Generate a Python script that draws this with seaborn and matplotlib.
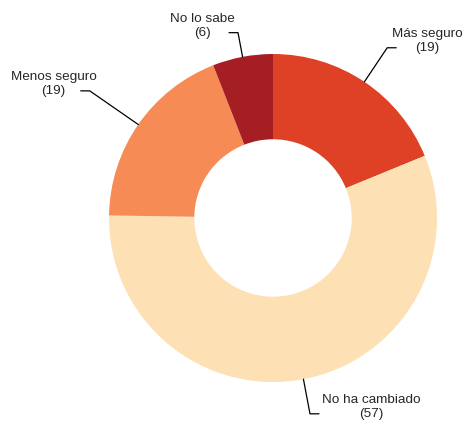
import numpy as np
import seaborn as sns
import matplotlib.pyplot as plt

categorias = ['Más seguro', 'No ha cambiado', 'Menos seguro', 'No lo sabe']
valores = [19, 57, 19, 6]
colores = ['#df4126', '#fde0b4', '#f68b55', '#a51e23']
radio_codo = [1.25, 1.215, 1.36, 1.15]
sep_texto = [0.19, 0.32, 0.165, 0.16]

sns.set_theme(style='white')
plt.rcParams['font.family'] = ['Liberation Sans', 'DejaVu Sans']

fig = plt.figure(figsize=(4.71, 4.23), dpi=100)
ax = fig.add_axes([0, 0, 1, 1])

wedges, _ = ax.pie(valores, colors=colores, startangle=90, counterclock=False,
                   radius=1, wedgeprops=dict(width=0.52, linewidth=0))

# etiquetas con linea guia
for w, cat, v, rc, s in zip(wedges, categorias, valores, radio_codo, sep_texto):
    ang = np.deg2rad((w.theta1 + w.theta2) / 2)
    x0, y0 = np.cos(ang), np.sin(ang)
    x1, y1 = rc * x0, rc * y0
    lado = 1 if x0 > 0 else -1
    x2 = x1 + lado * 0.055
    ax.plot([x0, x1, x2], [y0, y1, y1], color='black', lw=0.9)
    ax.text(x2 + lado * s, y1 + 0.04, f'{cat}\n({v})', ha='center',
            va='center', fontsize=9.7, linespacing=1.25)

ax.set_xlim(-273 / 164, 198 / 164)
ax.set_ylim(-205 / 164, 218 / 164)
ax.axis('off')

plt.savefig('out.png', dpi=100)
